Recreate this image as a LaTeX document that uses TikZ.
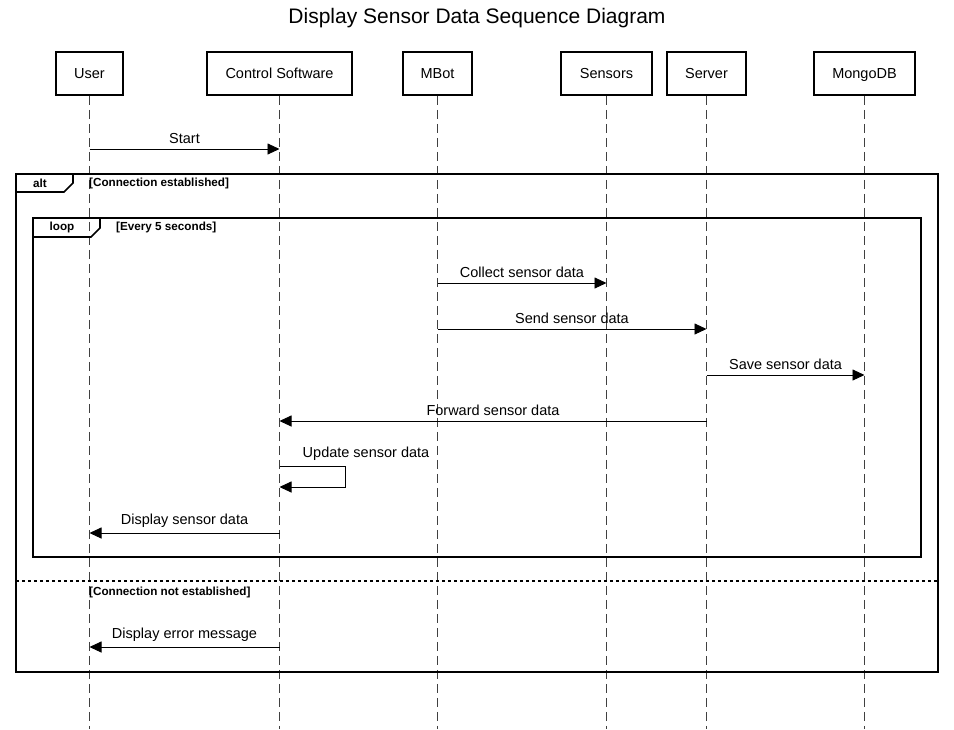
\documentclass[tikz,border=0pt]{standalone}
\usepackage{fontspec}
\setmainfont{Liberation Sans}
\usetikzlibrary{arrows.meta}
\begin{document}
\begin{tikzpicture}[x=1pt,y=-1pt,
  actor/.style={draw,line width=1.6pt,minimum height=43pt,inner sep=0pt,text height=10.5pt,text depth=1.5pt,font=\fontsize{14.5}{17}\selectfont},
  life/.style={line width=1.2pt,dash pattern=on 9pt off 5pt,black!75},
  msg/.style={line width=0.9pt,-{Triangle[length=12pt,width=11pt]}},
  lbl/.style={font=\fontsize{14.5}{17}\selectfont,inner sep=1pt,anchor=south},
  frm/.style={line width=1.6pt},
  guard/.style={font=\bfseries\fontsize{11.7}{13}\selectfont,anchor=west,inner sep=0pt}]
\useasboundingbox (0,0) rectangle (954,729);
\node[font=\fontsize{21}{25}\selectfont] (title) at (477,18) {Display Sensor Data Sequence Diagram};
\node[actor,minimum width=67pt] (user) at (89.5,73.5) {User};
\node[actor,minimum width=145pt] (cs) at (279.5,73.5) {Control Software};
\node[actor,minimum width=69pt] (mbot) at (437.5,73.5) {MBot};
\node[actor,minimum width=91pt] (sens) at (606.5,73.5) {Sensors};
\node[actor,minimum width=79pt] (serv) at (706.5,73.5) {Server};
\node[actor,minimum width=101pt] (mongo) at (864.5,73.5) {MongoDB};
\foreach \n in {user,cs,mbot,sens,serv,mongo}{
  \coordinate (\n-end) at (\n.south |- 0,729);
  \draw[life] (\n.south) -- (\n-end);
}
% alt frame
\coordinate (altTL) at (16,174);
\coordinate (altBR) at (938,672);
\draw[frm] (altTL) rectangle (altBR);
\draw[frm] (16,192) -- (64,192) -- (73,183) -- (73,174);
\node[font=\bfseries\fontsize{11.7}{13}\selectfont] (alttag) at (40,183.5) {alt};
\node[guard] (g1) at (89,183.5) {[Connection established]};
% loop frame
\draw[frm] (33,218) rectangle (921,557);
\draw[frm] (33,237) -- (91,237) -- (100,228) -- (100,218);
\node[font=\bfseries\fontsize{11.7}{13}\selectfont] (looptag) at (62,227.5) {loop};
\node[guard] (g2) at (116,227.5) {[Every 5 seconds]};
% separator
\draw[line width=1.3pt,dash pattern=on 3pt off 3pt] (16,581) -- (938,581);
\node[guard] (g3) at (89,592.5) {[Connection not established]};
% messages
\draw[msg] (user.south |- 0,149) -- node[lbl,above=4pt] {Start} (cs.south |- 0,149);
\draw[msg] (mbot.south |- 0,283) -- node[lbl,above=4pt] {Collect sensor data} (sens.south |- 0,283);
\draw[msg] (mbot.south |- 0,329) -- node[lbl,above=4pt] {Send sensor data} (serv.south |- 0,329);
\draw[msg] (serv.south |- 0,375) -- node[lbl,above=4pt] {Save sensor data} (mongo.south |- 0,375);
\draw[msg] (serv.south |- 0,421) -- node[lbl,above=4pt] {Forward sensor data} (cs.south |- 0,421);
\draw[msg] (cs.south |- 0,466) -- (345,466) -- (345,487) -- (cs.south |- 0,487);
\node[lbl] (upd) at (366,462) {Update sensor data};
\draw[msg] (cs.south |- 0,533) -- node[lbl,above=4pt] {Display sensor data} (user.south |- 0,533);
\draw[msg] (cs.south |- 0,647) -- node[lbl,above=4pt] {Display error message} (user.south |- 0,647);
\end{tikzpicture}
\end{document}
